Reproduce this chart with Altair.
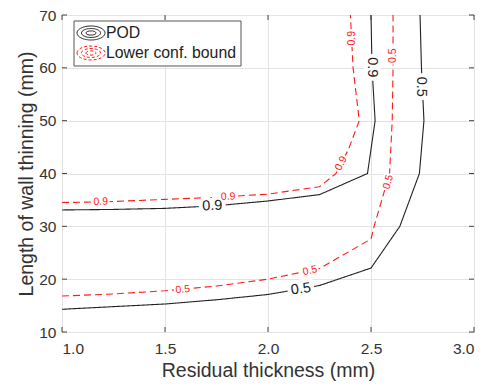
import altair as alt
import pandas as pd

# ---------------- data ----------------
pod90_x = [1.0, 1.25, 1.5, 1.75, 2.0, 2.25, 2.483, 2.52, 2.505, 2.50]
pod90_y = [33.1, 33.2, 33.4, 33.9, 34.8, 36.0, 40.0, 50.0, 60.0, 70.0]
pod50_x = [1.0, 1.25, 1.5, 1.75, 2.0, 2.25, 2.5, 2.64, 2.735, 2.757, 2.745, 2.738]
pod50_y = [14.3, 14.8, 15.3, 16.1, 17.1, 18.8, 22.1, 30.0, 40.0, 50.0, 60.0, 70.0]
lcb90_x = [1.0, 1.25, 1.5, 1.75, 2.0, 2.25, 2.33, 2.39, 2.443, 2.413, 2.40]
lcb90_y = [34.5, 34.7, 35.1, 35.5, 36.1, 37.5, 40.0, 44.5, 50.0, 60.0, 70.0]
lcb50_x = [1.0, 1.25, 1.5, 1.75, 2.0, 2.25, 2.5, 2.515, 2.59, 2.603, 2.607, 2.607]
lcb50_y = [16.8, 17.2, 17.8, 18.7, 20.0, 22.0, 27.6, 30.0, 40.0, 50.0, 60.0, 70.0]

lab_series = ["POD", "POD", "POD", "POD",
              "Lower conf. bound", "Lower conf. bound", "Lower conf. bound", "Lower conf. bound",
              "Lower conf. bound", "Lower conf. bound", "Lower conf. bound", "Lower conf. bound"]
lab_text = ["0.9", "0.9", "0.5", "0.5",
            "0.9", "0.9", "0.9", "0.9", "0.5", "0.5", "0.5", "0.5"]
lab_x = [1.73, 2.503, 2.16, 2.743,
         1.188, 1.807, 2.355, 2.406, 1.586, 2.204, 2.584, 2.607]
lab_y = [33.85, 60.1, 18.1, 56.4,
         34.65, 35.6, 41.9, 65.6, 18.0, 21.6, 38.4, 62.3]
lab_angle = [357, 90, 352, 90,
             359, 357, 297, 270, 355, 348, 286, 270]

x_ticks = [1.0, 1.5, 2.0, 2.5, 3.0]
y_ticks = [10, 20, 30, 40, 50, 60, 70]
series_names = ["POD", "Lower conf. bound"]
series_colors = ["#222222", "#ff1a1a"]

# ---------------- tables ----------------
rows = []
for s, lvl, xs_, ys_ in [("POD", "0.9", pod90_x, pod90_y), ("POD", "0.5", pod50_x, pod50_y),
                         ("Lower conf. bound", "0.9", lcb90_x, lcb90_y),
                         ("Lower conf. bound", "0.5", lcb50_x, lcb50_y)]:
    for i, (xv, yv) in enumerate(zip(xs_, ys_)):
        rows.append({"series": s, "contour": s + lvl, "i": i, "x": xv, "y": yv})
lines_df = pd.DataFrame(rows)
labels_df = pd.DataFrame({"series": lab_series, "text": lab_text, "x": lab_x,
                          "y": lab_y, "angle": lab_angle})
legend_df = pd.DataFrame({"series": series_names})
xt_df = pd.DataFrame({"t": x_ticks})
yt_df = pd.DataFrame({"t": y_ticks})

W, H = 412, 317
FONT = "Liberation Sans"

xs = alt.Scale(domain=[1, 3], nice=False)
ys = alt.Scale(domain=[10, 70], nice=False)
cscale = alt.Scale(domain=series_names, range=series_colors)
dscale = alt.Scale(domain=series_names, range=[[1, 0], [7, 4]])

X = alt.X("x:Q", scale=xs, title="Residual thickness (mm)",
          axis=alt.Axis(values=x_ticks, format=".1f", grid=True, ticks=False, domain=False,
                        labelFontSize=15.5, titleFontSize=19.5, labelPadding=9, titlePadding=5,
                        labelFont=FONT, titleFont=FONT, labelColor="#333", titleColor="#333",
                        titleFontWeight="normal", gridColor="#e3e3e3"))
Y = alt.Y("y:Q", scale=ys, title="Length of wall thinning (mm)",
          axis=alt.Axis(values=y_ticks, grid=True, ticks=False, domain=False,
                        labelFontSize=15.5, titleFontSize=19.5, labelPadding=6, titlePadding=2,
                        labelFont=FONT, titleFont=FONT, labelColor="#333", titleColor="#333",
                        titleFontWeight="normal", gridColor="#e3e3e3"))

lines = alt.Chart(lines_df).mark_line(strokeWidth=1.1, clip=True).encode(
    x=X, y=Y,
    color=alt.Color("series:N", scale=cscale, legend=None),
    strokeDash=alt.StrokeDash("series:N", scale=dscale, legend=None),
    detail="contour:N",
    order="i:Q",
)


def label_layers(series, fsize, halo):
    base = alt.Chart(labels_df).transform_filter(alt.datum.series == series).encode(
        x=alt.X("x:Q", scale=xs), y=alt.Y("y:Q", scale=ys),
        text="text:N", angle=alt.Angle("angle:Q", scale=None))
    h = base.mark_text(font=FONT, fontSize=fsize, stroke="white", strokeWidth=halo,
                       fill="white", align="center", baseline="middle")
    t = base.mark_text(font=FONT, fontSize=fsize, align="center", baseline="middle").encode(
        color=alt.Color("series:N", scale=cscale, legend=None))
    return [h, t]


# inward ticks (MATLAB style box)
tick_col = "#444"
xt_b = alt.Chart(xt_df).mark_rule(color=tick_col).encode(
    x=alt.X("t:Q", scale=xs), y=alt.value(H), y2=alt.value(H - 5))
xt_t = alt.Chart(xt_df).mark_rule(color=tick_col).encode(
    x=alt.X("t:Q", scale=xs), y=alt.value(0), y2=alt.value(5))
yt_l = alt.Chart(yt_df).mark_rule(color=tick_col).encode(
    y=alt.Y("t:Q", scale=ys), x=alt.value(0), x2=alt.value(5))
yt_r = alt.Chart(yt_df).mark_rule(color=tick_col).encode(
    y=alt.Y("t:Q", scale=ys), x=alt.value(W), x2=alt.value(W - 5))

# legend (drawn inside the axes, top-left)
ELL = ("M-1,0A1,0.5,0,1,1,1,0A1,0.5,0,1,1,-1,0Z "
       "M-0.68,0A0.68,0.32,0,1,1,0.68,0A0.68,0.32,0,1,1,-0.68,0Z "
       "M-0.36,0A0.36,0.15,0,1,1,0.36,0A0.36,0.15,0,1,1,-0.36,0Z")
leg_box = alt.Chart(legend_df).transform_filter(alt.datum.series == "POD").mark_rect(
    fill="white", stroke="#555", strokeWidth=1).encode(
    x=alt.value(12), x2=alt.value(179), y=alt.value(6), y2=alt.value(51))
leg_layers = [leg_box]
for k, (s, dash) in enumerate(zip(series_names, [[1, 0], [3, 2]])):
    yy = 18 + 20 * k
    sym = alt.Chart(legend_df).transform_filter(alt.datum.series == s).mark_point(
        shape=ELL, size=784, filled=False, strokeWidth=1, strokeDash=dash, opacity=1).encode(
        x=alt.value(29), y=alt.value(yy),
        color=alt.Color("series:N", scale=cscale, legend=None))
    txt = alt.Chart(legend_df).transform_filter(alt.datum.series == s).mark_text(
        font=FONT, fontSize=15.8, align="left", baseline="middle", color="#222").encode(
        x=alt.value(44), y=alt.value(yy), text="series:N")
    leg_layers += [sym, txt]

layers = [lines]
layers += label_layers("POD", 14.5, 8)
layers += label_layers("Lower conf. bound", 10.5, 4)
layers += [xt_b, xt_t, yt_l, yt_r] + leg_layers

chart = alt.layer(*layers).properties(
    width=W, height=H,
    padding={"left": 62, "top": 15, "right": 16, "bottom": 53},
    autosize=alt.AutoSizeParams(type="none"),
    background="white",
).configure_view(stroke="#444", strokeWidth=1)

chart.save("out.html", embed_options={"renderer": "svg", "actions": False})
